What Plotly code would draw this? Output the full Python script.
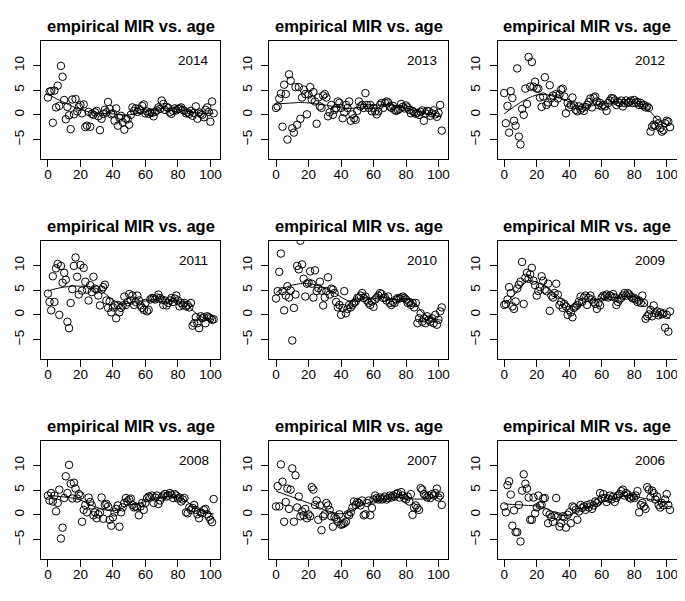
import plotly.graph_objects as go

W, H = 685, 601
AGES = list(range(103))
YEARS = ["2014", "2013", "2012", "2011", "2010", "2009", "2008", "2007", "2006"]
TITLE = "empirical MIR vs. age"
X_TICKS = [0, 20, 40, 60, 80, 100]
Y_TICKS = [-5, 0, 5, 10]

Y2014 = [3.5, 4.7, 4.8, -1.6, 4.9, 1.5, 5.9, 1.8, 9.9, 7.7, 3.0,
         -0.9, 1.6, -0.1, -2.9, 3.1, 0.1, 3.2, 0.7, 1.6, 2.0,
         0.3, 2.1, -2.5, -2.2, 0.6, -2.4, 0.2, 0.0, 0.5, 0.8,
         -0.3, -3.1, -0.8, 0.2, 1.0, 0.5, 2.6, 1.2, 0.1, 0.3,
         -1.2, 1.3, -2.2, -0.6, -0.2, -1.5, -3.0, -0.8, -0.9, -2.0,
         0.0, 1.5, 0.8, 1.3, 0.6, 1.2, 0.9, 1.8, 2.1, 0.3,
         0.7, 0.2, 0.5, 0.4, -0.3, 0.6, 0.9, 1.5, 1.2, 2.9,
         2.2, 1.0, 1.6, 1.4, 0.5, 0.2, 0.8, 1.3, 0.9, 1.2,
         1.3, 1.5, 1.0, 0.8, 0.3, 0.5, 0.2, 0.8, -0.2, 0.4,
         1.7, -0.8, 0.5, 0.2, 0.0, -0.5, 1.0, 1.5, 0.6, -1.4, 2.7, 0.3]
Y2013 = [1.4, 1.7, 3.3, 4.3, -2.4, 6.1, 4.2, -5.0, 8.2, 6.9, -2.7,
         -3.6, 5.6, -2.0, 5.6, -0.8, 3.5, 5.1, 4.2, 0.1, 4.1,
         5.6, 3.1, 4.6, 2.7, -1.8, 3.5, 1.7, 1.4, 3.9, 4.2,
         3.5, -0.3, 0.5, 2.0, 0.0, 1.0, 1.4, 2.7, 2.4, 1.4,
         -0.7, 0.5, 2.0, 1.4, 2.7, -1.2, 0.1, -0.7, -1.0, 0.8,
         2.7, 1.7, 2.0, 1.4, 4.4, 2.0, 1.4, 2.0, 0.7, 1.4,
         0.7, 0.1, 0.7, 2.0, 2.4, 1.4, 2.4, 2.7, 2.5, 1.7,
         1.4, 1.8, 1.0, 0.8, 1.0, 1.2, 2.2, 1.6, 1.3, 1.9,
         1.5, 1.0, 0.3, 0.8, 0.5, 0.2, 0.4, 0.0, 0.6, 0.9,
         -1.2, 0.3, 0.8, 0.7, -0.2, 0.3, 0.9, 0.1, -0.4, 0.4, 2.0, -3.2]
Y2012 = [4.4, -1.7, 1.8, -3.6, 4.8, 3.4, -1.2, -2.2, 9.4, -4.4, -6.0,
         1.2, 0.0, 5.3, 2.2, 11.7, 5.7, 10.7, 5.7, 6.7, 5.3,
         5.3, 3.5, 1.6, 3.7, 7.6, 2.0, 2.5, 6.0, 3.4, 3.9,
         2.4, 4.2, 3.3, 4.1, 5.1, 5.3, 3.7, 0.3, 2.4, 1.5,
         2.0, 3.5, 1.9, 1.0, 0.7, 1.7, 1.0, 1.4, 0.8, 1.6,
         2.0, 2.6, 3.3, 1.5, 3.5, 3.7, 2.7, 2.0, 2.4, 1.7,
         2.0, 1.7, 0.8, 2.4, 2.9, 3.4, 3.3, 2.9, 2.0, 2.6,
         2.4, 2.9, 1.7, 2.4, 2.9, 2.4, 2.6, 2.9, 2.4, 3.0,
         2.4, 2.6, 2.0, 2.4, 1.9, 2.0, 1.5, 1.7, 1.4, -3.4,
         -2.4, -2.0, -2.2, -1.0, -1.7, -2.7, -3.4, -3.1, -1.7, -1.2, -1.4, -2.5]
Y2011 = [4.3, 2.6, 0.9, 7.8, 2.6, 9.4, 10.3, 0.0, 9.9, 6.5, 8.5,
         7.1, -1.4, -2.7, 2.4, 5.2, 9.9, 11.6, 7.7, 4.1, 10.1,
         4.9, 9.5, 6.7, 5.1, 2.9, 6.0, 4.6, 7.7, 5.3, 5.1,
         3.9, 1.9, 5.1, 5.6, 6.1, 2.9, 1.4, 2.7, 0.5, 1.5,
         2.0, -0.7, 2.0, 0.5, 1.4, 1.9, 3.7, 2.0, 2.6, 4.2,
         2.9, 3.9, 2.0, 2.6, 3.9, 2.9, 1.9, 1.4, 1.0, 2.4,
         0.7, 1.0, 3.1, 3.4, 3.3, 3.1, 3.5, 4.1, 3.4, 3.1,
         2.0, 2.9, 1.9, 2.4, 2.9, 3.4, 2.6, 3.3, 3.9, 2.9,
         1.7, 2.4, 2.0, 2.4, 1.7, 2.0, 1.5, 2.4, -2.2, -1.7,
         -0.5, -1.7, -2.7, -0.3, -0.7, -0.5, -1.7, -0.3, -0.5, -0.7, -1.0, -0.9]
Y2010 = [3.3, 4.8, 8.7, 12.4, 4.8, 0.9, 3.9, 5.8, 3.5, 4.9, -5.2,
         1.4, 4.1, 9.9, 9.2, 15.0, 10.2, 7.3, 3.7, 6.3, 6.5,
         8.8, 6.3, 3.5, 9.0, 4.8, 5.4, 6.7, 4.9, 1.9, 3.5,
         4.8, 7.6, 4.1, 5.3, 5.1, 4.4, 2.6, 1.5, 2.0, 0.0,
         1.4, 4.8, 0.3, 1.2, 2.0, 1.5, 2.0, 2.4, 2.7, 3.4,
         3.5, 3.9, 4.4, 3.4, 3.7, 2.9, 2.4, 2.0, 2.7, 1.6,
         3.1, 3.5, 3.9, 4.4, 4.2, 3.4, 3.5, 2.9, 3.7, 2.4,
         2.0, 2.6, 2.4, 3.1, 3.4, 3.3, 3.5, 3.7, 3.4, 3.1,
         2.4, 2.6, 2.0, 2.4, 1.5, 2.4, -1.7, -0.7, 0.3, -1.4,
         -0.7, -1.7, -0.3, -1.0, -1.4, -0.7, -1.7, 0.0, -2.0, -1.0, 0.7, 1.5]
Y2009 = [2.0, 2.2, 3.1, 5.6, 4.4, 1.7, 1.2, 2.7, 5.3, 6.1, 6.7,
         10.7, 2.2, 7.5, 8.5, 7.3, 8.2, 9.5, 6.9, 6.0, 3.9,
         4.8, 5.6, 7.8, 6.9, 5.1, 4.8, 6.3, 0.8, 3.9, 3.5,
         4.4, 6.3, 4.1, 2.0, 2.6, 1.4, 2.2, 1.7, 0.0, 1.0,
         0.5, -0.5, 1.4, 1.7, 2.0, 2.7, 3.7, 2.6, 3.5, 3.9,
         2.0, 3.4, 3.9, 3.1, 2.6, 2.2, 1.2, 2.4, 1.9, 3.5,
         3.9, 3.7, 4.1, 3.5, 3.9, 3.7, 4.2, 3.5, 2.0, 2.6,
         3.1, 3.4, 3.9, 4.4, 3.9, 4.4, 4.1, 3.7, 3.3, 3.4,
         3.1, 2.6, 2.9, 2.4, 3.9, 2.4, -0.8, -0.3, 0.1, 1.0,
         -0.3, 1.9, 0.3, 0.7, -0.1, 0.5, 0.1, 0.3, -2.6, 0.0, -3.4, 0.7]
Y2008 = [3.9, 2.9, 4.4, 2.7, 3.9, 0.7, 2.4, 5.1, -4.8, -2.6, 3.4,
         7.8, 4.4, 10.1, 6.3, 3.3, 6.5, 5.3, 3.3, 4.2, 3.9,
         -1.4, 1.0, 2.0, 0.5, 3.5, 2.6, 1.9, -0.1, 0.5, -0.7,
         0.1, 0.5, 3.5, -0.8, 2.0, 2.2, 1.7, -1.0, -2.2, -0.5,
         0.5, 1.2, 1.9, -2.4, 0.5, 1.5, 2.4, 3.4, 2.7, 3.1,
         3.3, 2.0, 1.5, 1.7, 1.5, -0.1, 1.7, 2.4, 1.0, 2.4,
         3.4, 3.7, 3.5, 3.9, 2.4, 3.5, 3.9, 2.2, 2.9, 3.5,
         3.9, 4.2, 3.7, 3.9, 4.4, 4.1, 3.4, 4.2, 3.9, 3.3,
         3.5, 2.7, 3.1, 3.4, 0.5, 0.3, 1.5, 1.0, 1.4, 2.0,
         1.0, 0.1, -0.7, 0.5, 0.3, 1.0, 1.2, 0.1, -0.4, -1.0, -1.5, 3.2]
Y2007 = [1.7, 5.8, 1.7, 10.2, 6.7, -1.4, 2.6, 5.3, 1.2, 5.1, 9.4,
         -1.4, 8.0, 1.5, 3.7, -0.3, 0.7, -0.1, 1.2, -0.7, 0.1,
         -0.3, 5.6, 5.1, 2.0, 2.9, -1.0, 1.9, -3.1, -0.3, 0.1,
         2.4, 1.9, 1.0, -0.3, -2.4, -0.5, -0.8, -1.4, 0.1, -2.0,
         -1.9, -1.7, -1.4, 0.1, -0.1, 0.5, 1.5, 2.7, 2.0, 2.6,
         2.4, 1.9, 2.9, -0.1, 0.1, 2.4, 2.9, -0.1, 1.4, 3.1,
         3.9, 3.4, 3.1, 3.5, 3.1, 3.3, 3.7, 3.1, 3.4, 3.9,
         3.5, 3.9, 3.7, 4.2, 4.4, 3.5, 4.6, 3.9, 3.4, 3.1,
         3.7, 2.7, 4.2, 0.0, 1.5, 1.9, 1.4, 1.0, 5.4, 5.1,
         4.2, 3.9, 3.5, 3.9, 3.4, 4.2, 3.9, 4.4, 5.3, 3.5, 3.9, 2.0]
Y2006 = [1.7, 0.5, 6.0, 6.8, 4.1, -2.2, 0.9, -3.5, -3.5, 2.0, -5.4,
         4.9, 8.2, 6.3, 5.3, 3.5, -1.0, -1.0, 3.5, 0.3, 1.5,
         3.9, 1.9, 2.0, 3.3, 3.4, 0.5, -1.7, 0.1, -0.5, -1.4,
         -0.1, 3.4, -0.3, -2.4, -1.7, -0.3, -0.5, -2.6, 0.0, 0.5,
         -1.7, 1.7, 1.5, 1.0, -1.0, 0.7, 2.0, 1.4, 1.7, 1.0,
         2.0, 1.5, 2.2, 1.2, 1.9, 2.7, 2.4, 2.7, 4.4, 3.3,
         4.2, 3.4, 2.6, 3.3, 3.9, 3.1, 3.7, 2.6, 3.4, 3.9,
         4.2, 4.8, 5.1, 3.9, 4.4, 4.1, 3.5, 3.3, 3.7, 3.4,
         3.9, 4.8, 0.5, 2.0, 2.4, 1.7, 1.2, 5.6, 5.1, 3.5,
         4.9, 4.4, 3.1, 3.7, 2.0, 1.5, 2.4, 1.9, 3.1, 4.2, 2.0, 1.0]

# smoothed curve at these ages
SMOOTH_AGES = [0, 5, 10, 15, 20, 25, 30, 35, 40, 45, 50, 55, 60, 65, 70, 75, 80, 85, 90, 95, 100, 102]
S2014 = [4.2, 3.3, 2.5, 1.7, 1.1, 0.6, 0.3, 0.2, 0.2, 0.0, 0.0, 0.3, 0.6, 0.9, 1.3, 1.3, 1.1, 0.8, 0.5, 0.3, 0.3, 0.3]
S2013 = [2.2, 2.3, 2.4, 2.5, 2.4, 2.2, 2.0, 1.7, 1.4, 1.3, 1.4, 1.7, 1.9, 2.0, 2.0, 1.8, 1.4, 0.9, 0.5, 0.1, -0.3, -0.4]
S2012 = [0.2, 1.4, 2.5, 3.4, 4.0, 4.1, 3.8, 3.4, 2.6, 1.8, 1.5, 1.9, 2.2, 2.4, 2.6, 2.6, 2.5, 2.0, 0.6, -1.2, -2.0, -2.2]
S2011 = [4.8, 5.3, 5.6, 5.8, 5.8, 5.7, 5.3, 4.3, 3.0, 2.2, 2.4, 2.8, 2.8, 3.1, 3.2, 3.0, 2.8, 2.3, 0.6, -0.5, -0.8, -0.9]
S2010 = [4.5, 5.4, 6.0, 6.3, 6.3, 6.0, 5.4, 4.7, 3.6, 2.8, 3.0, 3.4, 3.2, 3.7, 3.2, 3.1, 3.3, 2.5, 0.5, -0.6, -1.0, -1.1]
S2009 = [2.2, 3.6, 5.6, 6.9, 6.6, 5.8, 4.6, 3.3, 2.0, 1.6, 2.6, 3.1, 3.3, 3.6, 3.4, 3.8, 3.6, 3.0, 1.2, 0.3, -0.4, -0.8]
S2008 = [3.9, 3.8, 3.6, 3.4, 3.0, 2.2, 1.5, 1.0, 0.8, 1.2, 2.0, 2.2, 2.7, 3.3, 3.6, 3.8, 3.6, 2.8, 1.6, 0.8, 0.3, 0.2]
S2007 = [4.8, 4.2, 3.6, 3.0, 2.4, 1.7, 1.0, 0.5, 0.2, 0.6, 1.5, 2.2, 2.8, 3.2, 3.4, 3.5, 3.4, 3.2, 3.2, 3.4, 3.7, 3.8]
S2006 = [2.2, 2.1, 2.0, 1.9, 1.8, 1.4, 0.6, -0.1, 0.0, 0.7, 1.4, 2.0, 2.6, 3.1, 3.5, 3.9, 3.8, 3.4, 3.1, 2.8, 2.6, 2.5]

POINTS = [Y2014, Y2013, Y2012, Y2011, Y2010, Y2009, Y2008, Y2007, Y2006]
SMOOTH = [S2014, S2013, S2012, S2011, S2010, S2009, S2008, S2007, S2006]

FONT = "Liberation Sans, Arial, Helvetica, sans-serif"
BOX_LEFT = [33.3, 261.4, 489.6]
BOX_TOP = [33.3, 233.3, 433.3]
BOX_W, BOX_H = 179.0, 117.4

fig = go.Figure()
layout = dict(width=W, height=H, margin=dict(l=0, r=0, t=0, b=0),
              plot_bgcolor="white", paper_bgcolor="white", showlegend=False,
              font=dict(family=FONT, color="black"))
annotations = []

for i, (yr, ys, ss) in enumerate(zip(YEARS, POINTS, SMOOTH)):
    r, c = divmod(i, 3)
    k = i + 1
    xa = "x" if k == 1 else f"x{k}"
    ya = "y" if k == 1 else f"y{k}"
    x0 = BOX_LEFT[c] / W
    x1 = (BOX_LEFT[c] + BOX_W) / W
    y1 = 1 - BOX_TOP[r] / H
    y0 = 1 - (BOX_TOP[r] + BOX_H) / H
    fig.add_trace(go.Scatter(x=AGES[:len(ys)], y=ys, mode="markers", xaxis=xa, yaxis=ya,
                             marker=dict(symbol="circle-open", size=7.5, color="black",
                                         line=dict(width=1, color="black"))))
    fig.add_trace(go.Scatter(x=SMOOTH_AGES, y=ss, mode="lines", xaxis=xa, yaxis=ya,
                             line=dict(color="black", width=1, shape="spline", smoothing=0.8)))
    common = dict(showline=True, mirror=True, linecolor="black", linewidth=1,
                  ticks="outside", tickcolor="black", tickwidth=1,
                  showgrid=False, zeroline=False,
                  tickfont=dict(family=FONT, size=13.5, color="black"))
    layout["xaxis" if k == 1 else f"xaxis{k}"] = dict(
        domain=[x0, x1], range=[-4.08, 106.08], tickvals=X_TICKS, ticklen=7,
        anchor=ya, ticklabelstandoff=-4, **common)
    layout["yaxis" if k == 1 else f"yaxis{k}"] = dict(
        domain=[y0, y1], range=[-8.88, 14.88], tickvals=Y_TICKS, ticklen=7,
        tickangle=-90, anchor=xa, ticklabelstandoff=4, **common)
    annotations.append(dict(text=f"<b>{TITLE}</b>", xref="paper", yref="paper",
                            x=(BOX_LEFT[c] + BOX_W / 2) / W, y=1 - (BOX_TOP[r] - 15.3) / H,
                            xanchor="center", yanchor="middle", showarrow=False,
                            font=dict(family=FONT, size=16.5, color="black")))
    annotations.append(dict(text=yr, xref="paper", yref="paper",
                            x=(BOX_LEFT[c] + BOX_W - 26.5) / W, y=1 - (BOX_TOP[r] + 19.4) / H,
                            xanchor="center", yanchor="middle", showarrow=False,
                            font=dict(family=FONT, size=13.5, color="black")))

layout["annotations"] = annotations
fig.update_layout(**layout)
fig.write_html("out.html")
